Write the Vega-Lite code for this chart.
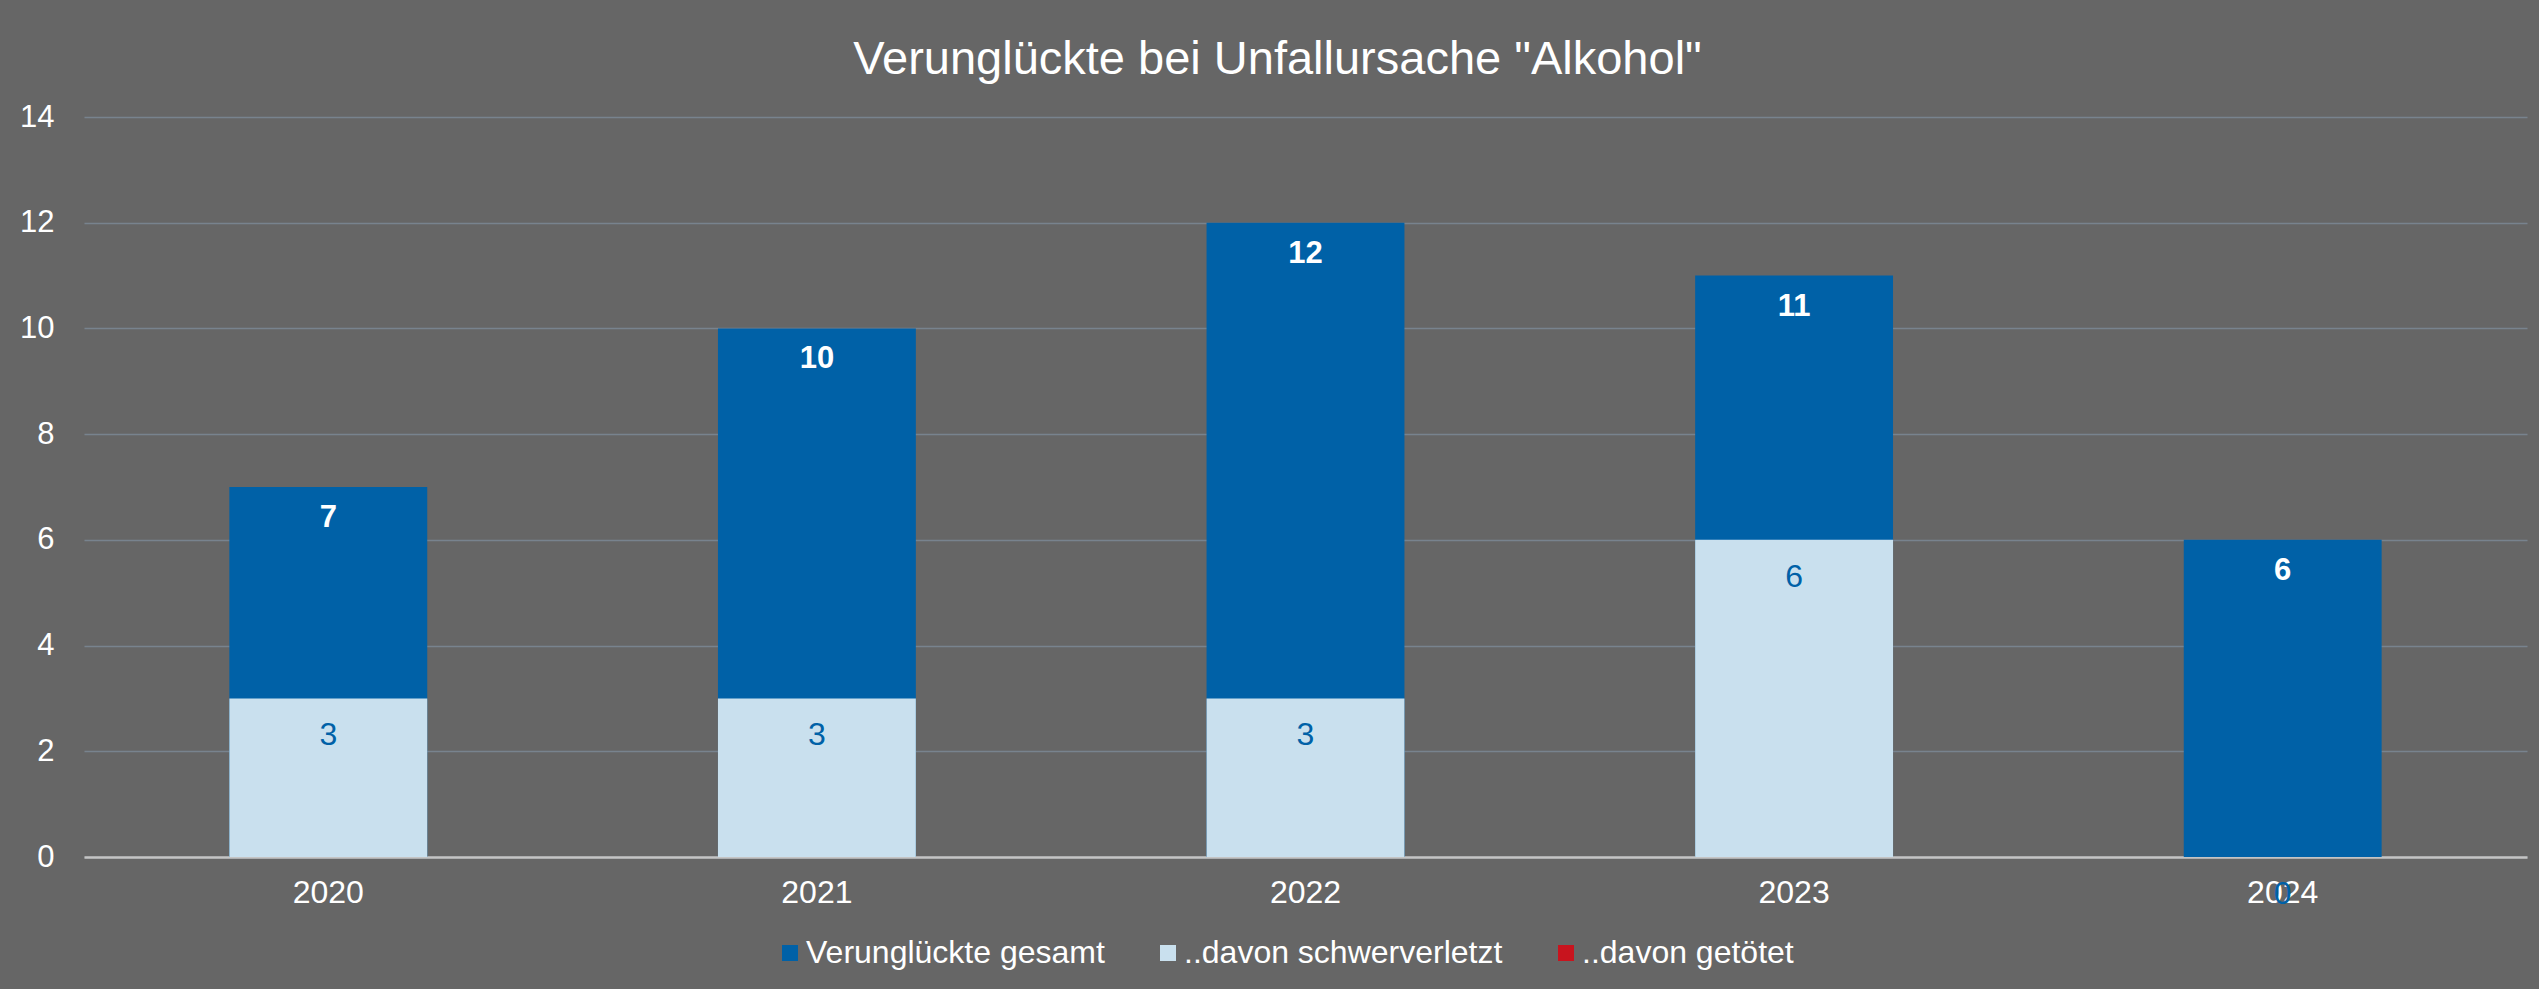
{
  "$schema": "https://vega.github.io/schema/vega-lite/v6.json",
  "width": 2443,
  "height": 740,
  "autosize": {"type": "none"},
  "padding": {"left": 84, "top": 117, "right": 12, "bottom": 132},
  "background": "#666666",
  "title": {
    "text": "Verunglückte bei Unfallursache \"Alkohol\"",
    "font": "Liberation Sans",
    "fontSize": 47,
    "fontWeight": "normal",
    "color": "white",
    "anchor": "middle",
    "dx": -28,
    "offset": -20,
    "baseline": "alphabetic"
  },
  "config": {"view": {"stroke": null}, "font": "Liberation Sans"},
  "data": {
    "values": [
      {"Jahr": "2020", "Serie": "Verunglückte gesamt", "Wert": 7},
      {"Jahr": "2021", "Serie": "Verunglückte gesamt", "Wert": 10},
      {"Jahr": "2022", "Serie": "Verunglückte gesamt", "Wert": 12},
      {"Jahr": "2023", "Serie": "Verunglückte gesamt", "Wert": 11},
      {"Jahr": "2024", "Serie": "Verunglückte gesamt", "Wert": 6},
      {"Jahr": "2020", "Serie": "..davon schwerverletzt", "Wert": 3},
      {"Jahr": "2021", "Serie": "..davon schwerverletzt", "Wert": 3},
      {"Jahr": "2022", "Serie": "..davon schwerverletzt", "Wert": 3},
      {"Jahr": "2023", "Serie": "..davon schwerverletzt", "Wert": 6},
      {"Jahr": "2024", "Serie": "..davon schwerverletzt", "Wert": 0},
      {"Jahr": "2020", "Serie": "..davon getötet", "Wert": 0},
      {"Jahr": "2021", "Serie": "..davon getötet", "Wert": 0},
      {"Jahr": "2022", "Serie": "..davon getötet", "Wert": 0},
      {"Jahr": "2023", "Serie": "..davon getötet", "Wert": 0},
      {"Jahr": "2024", "Serie": "..davon getötet", "Wert": 0}
    ]
  },
  "encoding": {
    "x": {
      "field": "Jahr",
      "type": "ordinal",
      "scale": {"paddingInner": 0.595, "paddingOuter": 0.2975},
      "axis": {
        "title": null,
        "labelAngle": 0,
        "labelColor": "white",
        "labelFontSize": 32,
        "labelPadding": 20,
        "ticks": false,
        "domainColor": "#c4c4c4",
        "domainWidth": 2.5,
        "grid": false
      }
    },
    "y": {
      "field": "Wert",
      "type": "quantitative",
      "stack": null,
      "scale": {"domain": [0, 14], "nice": false},
      "axis": {
        "title": null,
        "values": [0, 2, 4, 6, 8, 10, 12, 14],
        "grid": true,
        "gridColor": "#78838e",
        "gridWidth": 1.5,
        "domain": false,
        "ticks": false,
        "labelColor": "white",
        "labelFontSize": 31,
        "labelPadding": 30
      }
    }
  },
  "layer": [
    {
      "mark": {"type": "bar"},
      "encoding": {
        "color": {
          "field": "Serie",
          "type": "nominal",
          "scale": {
            "domain": ["Verunglückte gesamt", "..davon schwerverletzt", "..davon getötet"],
            "range": ["#0061a7", "#c9e0ee", "#c8141e"]
          },
          "legend": {
            "orient": "none",
            "legendX": 690,
            "legendY": 820,
            "direction": "horizontal",
            "title": null,
            "symbolType": "square",
            "symbolSize": 256,
            "symbolStrokeWidth": 0,
            "labelFontSize": 32,
            "labelLimit": 1000,
            "labelColor": "white",
            "columnPadding": 47,
            "labelOffset": 0
          }
        }
      }
    },
    {
      "transform": [{"filter": "datum.Serie === 'Verunglückte gesamt'"}],
      "mark": {"type": "text", "baseline": "middle", "dy": 31, "fontSize": 31, "fontWeight": "bold", "color": "white"},
      "encoding": {"text": {"field": "Wert", "type": "quantitative"}}
    },
    {
      "transform": [{"filter": "datum.Serie === '..davon schwerverletzt'"}],
      "mark": {"type": "text", "baseline": "middle", "dy": 37, "fontSize": 32, "color": "#0061a7"},
      "encoding": {"text": {"field": "Wert", "type": "quantitative"}}
    }
  ]
}
